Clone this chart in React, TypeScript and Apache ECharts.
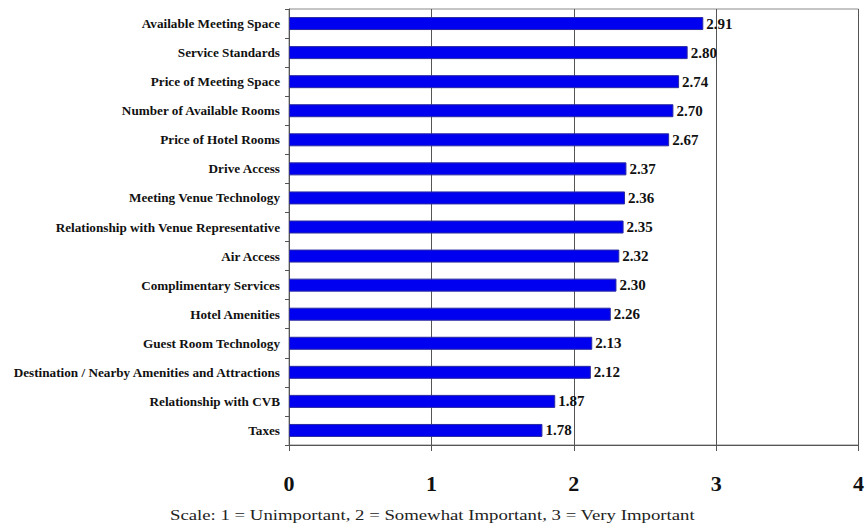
import React, { useEffect, useRef } from "react";
import * as echarts from "echarts";

const categories = [
  "Available Meeting Space",
  "Service Standards",
  "Price of Meeting Space",
  "Number of Available Rooms",
  "Price of Hotel Rooms",
  "Drive Access",
  "Meeting Venue Technology",
  "Relationship with Venue Representative",
  "Air Access",
  "Complimentary Services",
  "Hotel Amenities",
  "Guest Room Technology",
  "Destination / Nearby Amenities and Attractions",
  "Relationship with CVB",
  "Taxes",
];
const values = [2.91, 2.8, 2.74, 2.7, 2.67, 2.37, 2.36, 2.35, 2.32, 2.3, 2.26, 2.13, 2.12, 1.87, 1.78];
const caption = "Scale: 1 = Unimportant, 2 = Somewhat Important, 3 = Very Important";

const SERIF = "'Liberation Serif', 'Times New Roman', serif";

export default function App() {
  const ref = useRef<HTMLDivElement>(null);
  useEffect(() => {
    document.body.style.margin = "0";
    const chart = echarts.init(ref.current!, null, { renderer: "svg" });
    chart.setOption({
      animation: false,
      backgroundColor: "#ffffff",
      grid: { left: 289, right: 5, top: 9, bottom: 87, show: true, borderColor: "#8a8a8a", borderWidth: 1, backgroundColor: "transparent" },
      xAxis: {
        type: "value",
        min: 0,
        max: 4,
        interval: 1,
        axisLine: { show: true, lineStyle: { color: "#555", width: 1 } },
        axisTick: { show: true, length: 6, lineStyle: { color: "#555" } },
        splitLine: { show: true, lineStyle: { color: "#555", width: 1 } },
        axisLabel: { fontFamily: SERIF, fontWeight: "bold", fontSize: 22, color: "#111", margin: 27 },
      },
      yAxis: {
        type: "category",
        data: categories,
        inverse: true,
        axisLine: { show: true, lineStyle: { color: "#555", width: 1 } },
        axisTick: { show: true, length: 4, lineStyle: { color: "#555" } },
        axisLabel: { fontFamily: SERIF, fontWeight: "bold", fontSize: 13.2, color: "#111", margin: 9 },
      },
      series: [
        {
          type: "bar",
          data: values,
          barWidth: 13,
          itemStyle: { color: "#0000f0", borderColor: "#2a2aa0", borderWidth: 1 },
          label: {
            show: true,
            position: "right",
            distance: 3,
            fontFamily: SERIF,
            fontWeight: "bold",
            fontSize: 15,
            color: "#111",
            formatter: (p: any) => p.value.toFixed(2),
          },
        },
      ],
      graphic: [
        {
          type: "text",
          x: 170,
          y: 515,
          scaleX: 1.34,
          style: { text: caption, fontFamily: SERIF, fontSize: 14, fill: "#222", verticalAlign: "middle" },
        },
      ],
    });
    return () => chart.dispose();
  }, []);
  return <div ref={ref} style={{ width: 867, height: 532 }} />;
}
